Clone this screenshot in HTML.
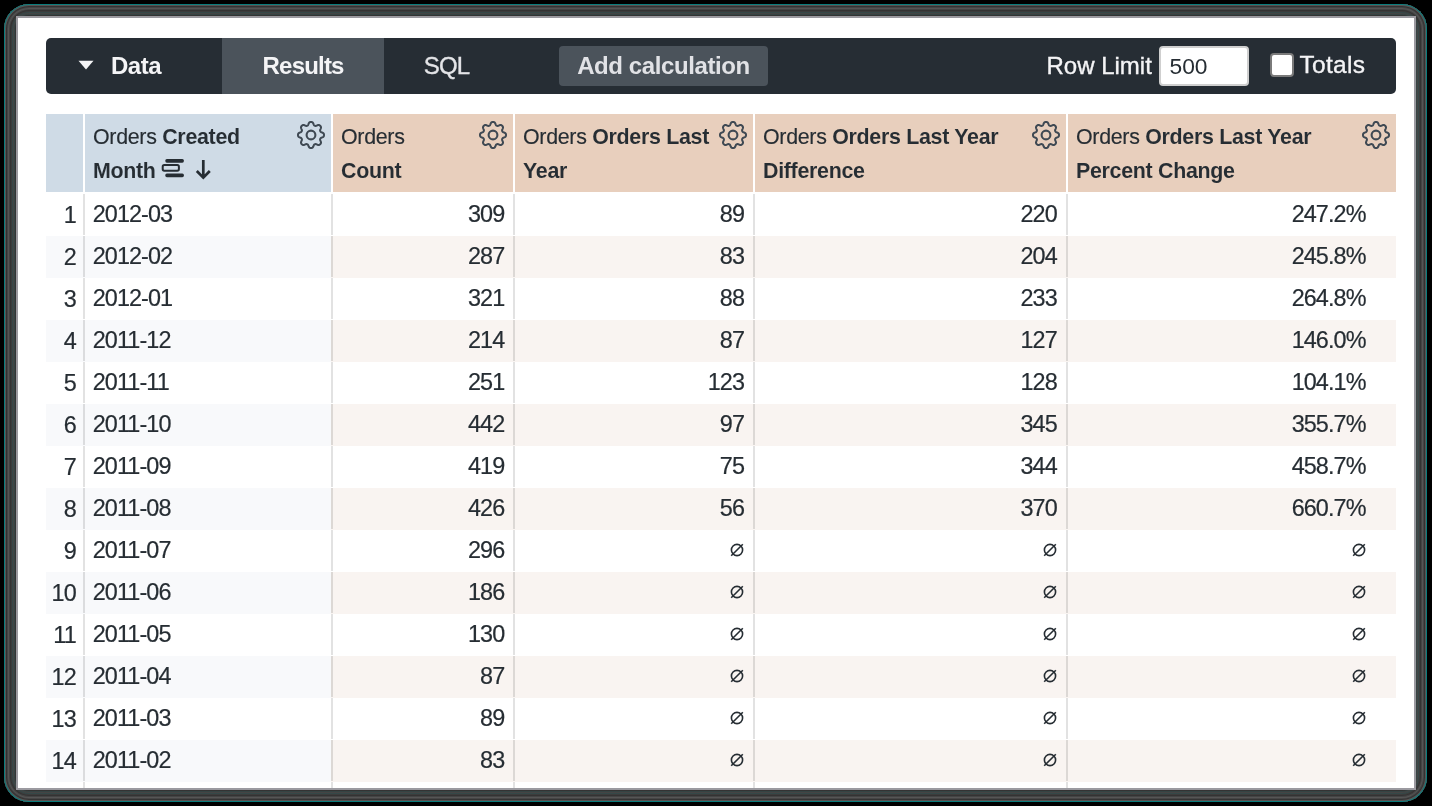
<!DOCTYPE html><html><head><meta charset="utf-8"><style>
*{margin:0;padding:0;box-sizing:border-box}
html,body{width:1432px;height:806px;overflow:hidden;background:#000;font-family:"Liberation Sans",sans-serif;}
.frame{position:absolute;left:4px;top:4px;width:1423px;height:798px;border-radius:25px;background:#3a3a3a;
 box-shadow: inset 0 0 0 1px #0a7d7d, inset 0 0 0 2px #5a5252, inset 0 0 0 3px #333, inset 0 0 0 4px #454545,
 inset 0 0 0 5px #555, inset 0 0 0 6px #444, inset 0 0 0 7px #333, inset 0 0 0 8px #3c3c3c, inset 0 0 0 9px #354848,
 inset 0 0 0 10px #444, inset 0 0 0 11px #354444, inset 0 0 0 12px #333;}
.inner{position:absolute;left:16px;top:16px;width:1400px;height:774px;background:#9b9aa0;}
.white{position:absolute;left:18px;top:18px;width:1396px;height:770px;background:#fff;overflow:hidden}
.abs{position:absolute}
.tb{position:absolute;left:46px;top:38px;width:1350px;height:56px;background:#262d34;border-radius:5px;overflow:hidden}
.t{position:absolute;white-space:nowrap;line-height:1}
.gear{position:absolute}
</style></head><body>
<div id="root" style="position:absolute;left:0;top:0;width:1432px;height:806px;background:#000;will-change:transform">
<div class="frame"></div><div class="inner"></div><div class="white"></div>
<div class="tb">
<div class="abs" style="left:176px;top:0;width:162px;height:56px;background:#4b535b"></div>
</div>
<svg class="abs" style="left:78px;top:60px" width="16" height="10" viewBox="0 0 16 10"><path d="M0.5 0.8 L15.5 0.8 L8 9.4 Z" fill="#f4f4f6"/></svg>
<div class="t" style="left:111px;top:53.68px;font-size:24px;font-weight:700;color:#f4f4f6;letter-spacing:-0.5px">Data</div>
<div class="t" style="left:223.5px;width:160px;text-align:center;top:54.18px;font-size:24px;font-weight:700;color:#f4f4f6;letter-spacing:-0.8px;text-indent:-0.8px">Results</div>
<div class="t" style="left:386.5px;width:120px;text-align:center;top:54.18px;font-size:24px;font-weight:400;color:#e4e5e8;letter-spacing:-0.8px;-webkit-text-stroke:0.35px #e4e5e8">SQL</div>
<div class="abs" style="left:559px;top:46px;width:209px;height:40px;background:#4b535b;border-radius:4px"></div>
<div class="t" style="left:559.0px;width:209px;text-align:center;top:53.68px;font-size:24px;font-weight:700;color:#e1e2e6;letter-spacing:-0.4px">Add calculation</div>
<div class="t" style="left:1046.5px;top:53.68px;font-size:24px;font-weight:400;color:#f4f4f6;-webkit-text-stroke:0.35px #f4f4f6">Row Limit</div>
<div class="abs" style="left:1159px;top:46px;width:90px;height:40px;background:#fff;border:2px solid #cfcfcf;border-radius:4px"></div>
<div class="t" style="left:1169.5px;top:54.70px;font-size:22.8px;font-weight:400;color:#262d33;">500</div>
<div class="abs" style="left:1270px;top:53px;width:24px;height:24px;background:#fff;border:2px solid #7a7a7a;border-radius:4px"></div>
<div class="t" style="left:1299.5px;top:53.26px;font-size:24.5px;font-weight:400;color:#f4f4f6;letter-spacing:0.3px;-webkit-text-stroke:0.35px #f4f4f6">Totals</div>
<div class="abs" style="left:46px;top:114px;width:37px;height:78px;background:#cfdbe6"></div>
<div class="abs" style="left:85px;top:114px;width:246px;height:78px;background:#cfdbe6"></div>
<div class="abs" style="left:333px;top:114px;width:180px;height:78px;background:#e8cfbd"></div>
<div class="abs" style="left:515px;top:114px;width:238px;height:78px;background:#e8cfbd"></div>
<div class="abs" style="left:755px;top:114px;width:311px;height:78px;background:#e8cfbd"></div>
<div class="abs" style="left:1068px;top:114px;width:328px;height:78px;background:#e8cfbd"></div>
<div class="t" style="left:93px;top:126.88px;font-size:21.4px;font-weight:400;color:#262d33;letter-spacing:-0.3px;-webkit-text-stroke:0.15px #262d33">Orders <b style="-webkit-text-stroke:0.06px #cfdbe6">Created</b></div>
<div class="t" style="left:93px;top:160.88px;font-size:21.4px;font-weight:400;color:#262d33;letter-spacing:-0.3px;-webkit-text-stroke:0.15px #262d33"><b style="-webkit-text-stroke:0.06px #cfdbe6">Month</b></div>
<div class="t" style="left:341px;top:126.88px;font-size:21.4px;font-weight:400;color:#262d33;letter-spacing:-0.3px;-webkit-text-stroke:0.15px #262d33">Orders</div>
<div class="t" style="left:341px;top:160.88px;font-size:21.4px;font-weight:400;color:#262d33;letter-spacing:-0.3px;-webkit-text-stroke:0.15px #262d33"><b style="-webkit-text-stroke:0.06px #e8cfbd">Count</b></div>
<div class="t" style="left:523px;top:126.88px;font-size:21.4px;font-weight:400;color:#262d33;letter-spacing:-0.3px;-webkit-text-stroke:0.15px #262d33">Orders <b style="-webkit-text-stroke:0.06px #e8cfbd">Orders Last</b></div>
<div class="t" style="left:523px;top:160.88px;font-size:21.4px;font-weight:400;color:#262d33;letter-spacing:-0.3px;-webkit-text-stroke:0.15px #262d33"><b style="-webkit-text-stroke:0.06px #e8cfbd">Year</b></div>
<div class="t" style="left:763px;top:126.88px;font-size:21.4px;font-weight:400;color:#262d33;letter-spacing:-0.3px;-webkit-text-stroke:0.15px #262d33">Orders <b style="-webkit-text-stroke:0.06px #e8cfbd">Orders Last Year</b></div>
<div class="t" style="left:763px;top:160.88px;font-size:21.4px;font-weight:400;color:#262d33;letter-spacing:-0.3px;-webkit-text-stroke:0.15px #262d33"><b style="-webkit-text-stroke:0.06px #e8cfbd">Difference</b></div>
<div class="t" style="left:1076px;top:126.88px;font-size:21.4px;font-weight:400;color:#262d33;letter-spacing:-0.3px;-webkit-text-stroke:0.15px #262d33">Orders <b style="-webkit-text-stroke:0.06px #e8cfbd">Orders Last Year</b></div>
<div class="t" style="left:1076px;top:160.88px;font-size:21.4px;font-weight:400;color:#262d33;letter-spacing:-0.3px;-webkit-text-stroke:0.15px #262d33"><b style="-webkit-text-stroke:0.06px #e8cfbd">Percent Change</b></div>
<svg class="gear" style="left:295.9px;top:120.2px" width="30" height="30" viewBox="0 0 30 30"><path d="M15.00 2.00L15.26 2.01L15.51 2.03L15.76 2.07L16.01 2.14L16.26 2.24L16.49 2.37L16.72 2.56L16.93 2.80L17.12 3.11L17.29 3.48L17.44 3.87L17.58 4.25L17.71 4.60L17.85 4.89L18.00 5.12L18.15 5.31L18.31 5.46L18.48 5.58L18.65 5.68L18.83 5.76L19.01 5.83L19.20 5.88L19.41 5.91L19.63 5.92L19.87 5.90L20.13 5.83L20.44 5.73L20.77 5.58L21.14 5.40L21.53 5.23L21.90 5.09L22.26 5.01L22.58 4.98L22.87 5.01L23.14 5.08L23.38 5.19L23.60 5.32L23.81 5.47L24.01 5.63L24.19 5.81L24.37 5.99L24.53 6.19L24.68 6.40L24.81 6.62L24.92 6.86L24.99 7.13L25.02 7.42L24.99 7.74L24.91 8.10L24.77 8.47L24.60 8.86L24.42 9.23L24.27 9.56L24.17 9.87L24.10 10.13L24.08 10.37L24.09 10.59L24.12 10.80L24.17 10.99L24.24 11.17L24.32 11.35L24.42 11.52L24.54 11.69L24.69 11.85L24.88 12.00L25.11 12.15L25.40 12.29L25.75 12.42L26.13 12.56L26.52 12.71L26.89 12.88L27.20 13.07L27.44 13.28L27.63 13.51L27.76 13.74L27.86 13.99L27.93 14.24L27.97 14.49L27.99 14.74L28.00 15.00L27.99 15.26L27.97 15.51L27.93 15.76L27.86 16.01L27.76 16.26L27.63 16.49L27.44 16.72L27.20 16.93L26.89 17.12L26.52 17.29L26.13 17.44L25.75 17.58L25.40 17.71L25.11 17.85L24.88 18.00L24.69 18.15L24.54 18.31L24.42 18.48L24.32 18.65L24.24 18.83L24.17 19.01L24.12 19.20L24.09 19.41L24.08 19.63L24.10 19.87L24.17 20.13L24.27 20.44L24.42 20.77L24.60 21.14L24.77 21.53L24.91 21.90L24.99 22.26L25.02 22.58L24.99 22.87L24.92 23.14L24.81 23.38L24.68 23.60L24.53 23.81L24.37 24.01L24.19 24.19L24.01 24.37L23.81 24.53L23.60 24.68L23.38 24.81L23.14 24.92L22.87 24.99L22.58 25.02L22.26 24.99L21.90 24.91L21.53 24.77L21.14 24.60L20.77 24.42L20.44 24.27L20.13 24.17L19.87 24.10L19.63 24.08L19.41 24.09L19.20 24.12L19.01 24.17L18.83 24.24L18.65 24.32L18.48 24.42L18.31 24.54L18.15 24.69L18.00 24.88L17.85 25.11L17.71 25.40L17.58 25.75L17.44 26.13L17.29 26.52L17.12 26.89L16.93 27.20L16.72 27.44L16.49 27.63L16.26 27.76L16.01 27.86L15.76 27.93L15.51 27.97L15.26 27.99L15.00 28.00L14.74 27.99L14.49 27.97L14.24 27.93L13.99 27.86L13.74 27.76L13.51 27.63L13.28 27.44L13.07 27.20L12.88 26.89L12.71 26.52L12.56 26.13L12.42 25.75L12.29 25.40L12.15 25.11L12.00 24.88L11.85 24.69L11.69 24.54L11.52 24.42L11.35 24.32L11.17 24.24L10.99 24.17L10.80 24.12L10.59 24.09L10.37 24.08L10.13 24.10L9.87 24.17L9.56 24.27L9.23 24.42L8.86 24.60L8.47 24.77L8.10 24.91L7.74 24.99L7.42 25.02L7.13 24.99L6.86 24.92L6.62 24.81L6.40 24.68L6.19 24.53L5.99 24.37L5.81 24.19L5.63 24.01L5.47 23.81L5.32 23.60L5.19 23.38L5.08 23.14L5.01 22.87L4.98 22.58L5.01 22.26L5.09 21.90L5.23 21.53L5.40 21.14L5.58 20.77L5.73 20.44L5.83 20.13L5.90 19.87L5.92 19.63L5.91 19.41L5.88 19.20L5.83 19.01L5.76 18.83L5.68 18.65L5.58 18.48L5.46 18.31L5.31 18.15L5.12 18.00L4.89 17.85L4.60 17.71L4.25 17.58L3.87 17.44L3.48 17.29L3.11 17.12L2.80 16.93L2.56 16.72L2.37 16.49L2.24 16.26L2.14 16.01L2.07 15.76L2.03 15.51L2.01 15.26L2.00 15.00L2.01 14.74L2.03 14.49L2.07 14.24L2.14 13.99L2.24 13.74L2.37 13.51L2.56 13.28L2.80 13.07L3.11 12.88L3.48 12.71L3.87 12.56L4.25 12.42L4.60 12.29L4.89 12.15L5.12 12.00L5.31 11.85L5.46 11.69L5.58 11.52L5.68 11.35L5.76 11.17L5.83 10.99L5.88 10.80L5.91 10.59L5.92 10.37L5.90 10.13L5.83 9.87L5.73 9.56L5.58 9.23L5.40 8.86L5.23 8.47L5.09 8.10L5.01 7.74L4.98 7.42L5.01 7.13L5.08 6.86L5.19 6.62L5.32 6.40L5.47 6.19L5.63 5.99L5.81 5.81L5.99 5.63L6.19 5.47L6.40 5.32L6.62 5.19L6.86 5.08L7.13 5.01L7.42 4.98L7.74 5.01L8.10 5.09L8.47 5.23L8.86 5.40L9.23 5.58L9.56 5.73L9.87 5.83L10.13 5.90L10.37 5.92L10.59 5.91L10.80 5.88L10.99 5.83L11.17 5.76L11.35 5.68L11.52 5.58L11.69 5.46L11.85 5.31L12.00 5.12L12.15 4.89L12.29 4.60L12.42 4.25L12.56 3.87L12.71 3.48L12.88 3.11L13.07 2.80L13.28 2.56L13.51 2.37L13.74 2.24L13.99 2.14L14.24 2.07L14.49 2.03L14.74 2.01Z" fill="none" stroke="#3f4953" stroke-width="2.0" stroke-linejoin="round"/><circle cx="15" cy="15" r="4.4" fill="none" stroke="#3f4953" stroke-width="2.1"/></svg>
<svg class="gear" style="left:478px;top:120.2px" width="30" height="30" viewBox="0 0 30 30"><path d="M15.00 2.00L15.26 2.01L15.51 2.03L15.76 2.07L16.01 2.14L16.26 2.24L16.49 2.37L16.72 2.56L16.93 2.80L17.12 3.11L17.29 3.48L17.44 3.87L17.58 4.25L17.71 4.60L17.85 4.89L18.00 5.12L18.15 5.31L18.31 5.46L18.48 5.58L18.65 5.68L18.83 5.76L19.01 5.83L19.20 5.88L19.41 5.91L19.63 5.92L19.87 5.90L20.13 5.83L20.44 5.73L20.77 5.58L21.14 5.40L21.53 5.23L21.90 5.09L22.26 5.01L22.58 4.98L22.87 5.01L23.14 5.08L23.38 5.19L23.60 5.32L23.81 5.47L24.01 5.63L24.19 5.81L24.37 5.99L24.53 6.19L24.68 6.40L24.81 6.62L24.92 6.86L24.99 7.13L25.02 7.42L24.99 7.74L24.91 8.10L24.77 8.47L24.60 8.86L24.42 9.23L24.27 9.56L24.17 9.87L24.10 10.13L24.08 10.37L24.09 10.59L24.12 10.80L24.17 10.99L24.24 11.17L24.32 11.35L24.42 11.52L24.54 11.69L24.69 11.85L24.88 12.00L25.11 12.15L25.40 12.29L25.75 12.42L26.13 12.56L26.52 12.71L26.89 12.88L27.20 13.07L27.44 13.28L27.63 13.51L27.76 13.74L27.86 13.99L27.93 14.24L27.97 14.49L27.99 14.74L28.00 15.00L27.99 15.26L27.97 15.51L27.93 15.76L27.86 16.01L27.76 16.26L27.63 16.49L27.44 16.72L27.20 16.93L26.89 17.12L26.52 17.29L26.13 17.44L25.75 17.58L25.40 17.71L25.11 17.85L24.88 18.00L24.69 18.15L24.54 18.31L24.42 18.48L24.32 18.65L24.24 18.83L24.17 19.01L24.12 19.20L24.09 19.41L24.08 19.63L24.10 19.87L24.17 20.13L24.27 20.44L24.42 20.77L24.60 21.14L24.77 21.53L24.91 21.90L24.99 22.26L25.02 22.58L24.99 22.87L24.92 23.14L24.81 23.38L24.68 23.60L24.53 23.81L24.37 24.01L24.19 24.19L24.01 24.37L23.81 24.53L23.60 24.68L23.38 24.81L23.14 24.92L22.87 24.99L22.58 25.02L22.26 24.99L21.90 24.91L21.53 24.77L21.14 24.60L20.77 24.42L20.44 24.27L20.13 24.17L19.87 24.10L19.63 24.08L19.41 24.09L19.20 24.12L19.01 24.17L18.83 24.24L18.65 24.32L18.48 24.42L18.31 24.54L18.15 24.69L18.00 24.88L17.85 25.11L17.71 25.40L17.58 25.75L17.44 26.13L17.29 26.52L17.12 26.89L16.93 27.20L16.72 27.44L16.49 27.63L16.26 27.76L16.01 27.86L15.76 27.93L15.51 27.97L15.26 27.99L15.00 28.00L14.74 27.99L14.49 27.97L14.24 27.93L13.99 27.86L13.74 27.76L13.51 27.63L13.28 27.44L13.07 27.20L12.88 26.89L12.71 26.52L12.56 26.13L12.42 25.75L12.29 25.40L12.15 25.11L12.00 24.88L11.85 24.69L11.69 24.54L11.52 24.42L11.35 24.32L11.17 24.24L10.99 24.17L10.80 24.12L10.59 24.09L10.37 24.08L10.13 24.10L9.87 24.17L9.56 24.27L9.23 24.42L8.86 24.60L8.47 24.77L8.10 24.91L7.74 24.99L7.42 25.02L7.13 24.99L6.86 24.92L6.62 24.81L6.40 24.68L6.19 24.53L5.99 24.37L5.81 24.19L5.63 24.01L5.47 23.81L5.32 23.60L5.19 23.38L5.08 23.14L5.01 22.87L4.98 22.58L5.01 22.26L5.09 21.90L5.23 21.53L5.40 21.14L5.58 20.77L5.73 20.44L5.83 20.13L5.90 19.87L5.92 19.63L5.91 19.41L5.88 19.20L5.83 19.01L5.76 18.83L5.68 18.65L5.58 18.48L5.46 18.31L5.31 18.15L5.12 18.00L4.89 17.85L4.60 17.71L4.25 17.58L3.87 17.44L3.48 17.29L3.11 17.12L2.80 16.93L2.56 16.72L2.37 16.49L2.24 16.26L2.14 16.01L2.07 15.76L2.03 15.51L2.01 15.26L2.00 15.00L2.01 14.74L2.03 14.49L2.07 14.24L2.14 13.99L2.24 13.74L2.37 13.51L2.56 13.28L2.80 13.07L3.11 12.88L3.48 12.71L3.87 12.56L4.25 12.42L4.60 12.29L4.89 12.15L5.12 12.00L5.31 11.85L5.46 11.69L5.58 11.52L5.68 11.35L5.76 11.17L5.83 10.99L5.88 10.80L5.91 10.59L5.92 10.37L5.90 10.13L5.83 9.87L5.73 9.56L5.58 9.23L5.40 8.86L5.23 8.47L5.09 8.10L5.01 7.74L4.98 7.42L5.01 7.13L5.08 6.86L5.19 6.62L5.32 6.40L5.47 6.19L5.63 5.99L5.81 5.81L5.99 5.63L6.19 5.47L6.40 5.32L6.62 5.19L6.86 5.08L7.13 5.01L7.42 4.98L7.74 5.01L8.10 5.09L8.47 5.23L8.86 5.40L9.23 5.58L9.56 5.73L9.87 5.83L10.13 5.90L10.37 5.92L10.59 5.91L10.80 5.88L10.99 5.83L11.17 5.76L11.35 5.68L11.52 5.58L11.69 5.46L11.85 5.31L12.00 5.12L12.15 4.89L12.29 4.60L12.42 4.25L12.56 3.87L12.71 3.48L12.88 3.11L13.07 2.80L13.28 2.56L13.51 2.37L13.74 2.24L13.99 2.14L14.24 2.07L14.49 2.03L14.74 2.01Z" fill="none" stroke="#3f4953" stroke-width="2.0" stroke-linejoin="round"/><circle cx="15" cy="15" r="4.4" fill="none" stroke="#3f4953" stroke-width="2.1"/></svg>
<svg class="gear" style="left:717.8px;top:120.2px" width="30" height="30" viewBox="0 0 30 30"><path d="M15.00 2.00L15.26 2.01L15.51 2.03L15.76 2.07L16.01 2.14L16.26 2.24L16.49 2.37L16.72 2.56L16.93 2.80L17.12 3.11L17.29 3.48L17.44 3.87L17.58 4.25L17.71 4.60L17.85 4.89L18.00 5.12L18.15 5.31L18.31 5.46L18.48 5.58L18.65 5.68L18.83 5.76L19.01 5.83L19.20 5.88L19.41 5.91L19.63 5.92L19.87 5.90L20.13 5.83L20.44 5.73L20.77 5.58L21.14 5.40L21.53 5.23L21.90 5.09L22.26 5.01L22.58 4.98L22.87 5.01L23.14 5.08L23.38 5.19L23.60 5.32L23.81 5.47L24.01 5.63L24.19 5.81L24.37 5.99L24.53 6.19L24.68 6.40L24.81 6.62L24.92 6.86L24.99 7.13L25.02 7.42L24.99 7.74L24.91 8.10L24.77 8.47L24.60 8.86L24.42 9.23L24.27 9.56L24.17 9.87L24.10 10.13L24.08 10.37L24.09 10.59L24.12 10.80L24.17 10.99L24.24 11.17L24.32 11.35L24.42 11.52L24.54 11.69L24.69 11.85L24.88 12.00L25.11 12.15L25.40 12.29L25.75 12.42L26.13 12.56L26.52 12.71L26.89 12.88L27.20 13.07L27.44 13.28L27.63 13.51L27.76 13.74L27.86 13.99L27.93 14.24L27.97 14.49L27.99 14.74L28.00 15.00L27.99 15.26L27.97 15.51L27.93 15.76L27.86 16.01L27.76 16.26L27.63 16.49L27.44 16.72L27.20 16.93L26.89 17.12L26.52 17.29L26.13 17.44L25.75 17.58L25.40 17.71L25.11 17.85L24.88 18.00L24.69 18.15L24.54 18.31L24.42 18.48L24.32 18.65L24.24 18.83L24.17 19.01L24.12 19.20L24.09 19.41L24.08 19.63L24.10 19.87L24.17 20.13L24.27 20.44L24.42 20.77L24.60 21.14L24.77 21.53L24.91 21.90L24.99 22.26L25.02 22.58L24.99 22.87L24.92 23.14L24.81 23.38L24.68 23.60L24.53 23.81L24.37 24.01L24.19 24.19L24.01 24.37L23.81 24.53L23.60 24.68L23.38 24.81L23.14 24.92L22.87 24.99L22.58 25.02L22.26 24.99L21.90 24.91L21.53 24.77L21.14 24.60L20.77 24.42L20.44 24.27L20.13 24.17L19.87 24.10L19.63 24.08L19.41 24.09L19.20 24.12L19.01 24.17L18.83 24.24L18.65 24.32L18.48 24.42L18.31 24.54L18.15 24.69L18.00 24.88L17.85 25.11L17.71 25.40L17.58 25.75L17.44 26.13L17.29 26.52L17.12 26.89L16.93 27.20L16.72 27.44L16.49 27.63L16.26 27.76L16.01 27.86L15.76 27.93L15.51 27.97L15.26 27.99L15.00 28.00L14.74 27.99L14.49 27.97L14.24 27.93L13.99 27.86L13.74 27.76L13.51 27.63L13.28 27.44L13.07 27.20L12.88 26.89L12.71 26.52L12.56 26.13L12.42 25.75L12.29 25.40L12.15 25.11L12.00 24.88L11.85 24.69L11.69 24.54L11.52 24.42L11.35 24.32L11.17 24.24L10.99 24.17L10.80 24.12L10.59 24.09L10.37 24.08L10.13 24.10L9.87 24.17L9.56 24.27L9.23 24.42L8.86 24.60L8.47 24.77L8.10 24.91L7.74 24.99L7.42 25.02L7.13 24.99L6.86 24.92L6.62 24.81L6.40 24.68L6.19 24.53L5.99 24.37L5.81 24.19L5.63 24.01L5.47 23.81L5.32 23.60L5.19 23.38L5.08 23.14L5.01 22.87L4.98 22.58L5.01 22.26L5.09 21.90L5.23 21.53L5.40 21.14L5.58 20.77L5.73 20.44L5.83 20.13L5.90 19.87L5.92 19.63L5.91 19.41L5.88 19.20L5.83 19.01L5.76 18.83L5.68 18.65L5.58 18.48L5.46 18.31L5.31 18.15L5.12 18.00L4.89 17.85L4.60 17.71L4.25 17.58L3.87 17.44L3.48 17.29L3.11 17.12L2.80 16.93L2.56 16.72L2.37 16.49L2.24 16.26L2.14 16.01L2.07 15.76L2.03 15.51L2.01 15.26L2.00 15.00L2.01 14.74L2.03 14.49L2.07 14.24L2.14 13.99L2.24 13.74L2.37 13.51L2.56 13.28L2.80 13.07L3.11 12.88L3.48 12.71L3.87 12.56L4.25 12.42L4.60 12.29L4.89 12.15L5.12 12.00L5.31 11.85L5.46 11.69L5.58 11.52L5.68 11.35L5.76 11.17L5.83 10.99L5.88 10.80L5.91 10.59L5.92 10.37L5.90 10.13L5.83 9.87L5.73 9.56L5.58 9.23L5.40 8.86L5.23 8.47L5.09 8.10L5.01 7.74L4.98 7.42L5.01 7.13L5.08 6.86L5.19 6.62L5.32 6.40L5.47 6.19L5.63 5.99L5.81 5.81L5.99 5.63L6.19 5.47L6.40 5.32L6.62 5.19L6.86 5.08L7.13 5.01L7.42 4.98L7.74 5.01L8.10 5.09L8.47 5.23L8.86 5.40L9.23 5.58L9.56 5.73L9.87 5.83L10.13 5.90L10.37 5.92L10.59 5.91L10.80 5.88L10.99 5.83L11.17 5.76L11.35 5.68L11.52 5.58L11.69 5.46L11.85 5.31L12.00 5.12L12.15 4.89L12.29 4.60L12.42 4.25L12.56 3.87L12.71 3.48L12.88 3.11L13.07 2.80L13.28 2.56L13.51 2.37L13.74 2.24L13.99 2.14L14.24 2.07L14.49 2.03L14.74 2.01Z" fill="none" stroke="#3f4953" stroke-width="2.0" stroke-linejoin="round"/><circle cx="15" cy="15" r="4.4" fill="none" stroke="#3f4953" stroke-width="2.1"/></svg>
<svg class="gear" style="left:1030.5px;top:120.2px" width="30" height="30" viewBox="0 0 30 30"><path d="M15.00 2.00L15.26 2.01L15.51 2.03L15.76 2.07L16.01 2.14L16.26 2.24L16.49 2.37L16.72 2.56L16.93 2.80L17.12 3.11L17.29 3.48L17.44 3.87L17.58 4.25L17.71 4.60L17.85 4.89L18.00 5.12L18.15 5.31L18.31 5.46L18.48 5.58L18.65 5.68L18.83 5.76L19.01 5.83L19.20 5.88L19.41 5.91L19.63 5.92L19.87 5.90L20.13 5.83L20.44 5.73L20.77 5.58L21.14 5.40L21.53 5.23L21.90 5.09L22.26 5.01L22.58 4.98L22.87 5.01L23.14 5.08L23.38 5.19L23.60 5.32L23.81 5.47L24.01 5.63L24.19 5.81L24.37 5.99L24.53 6.19L24.68 6.40L24.81 6.62L24.92 6.86L24.99 7.13L25.02 7.42L24.99 7.74L24.91 8.10L24.77 8.47L24.60 8.86L24.42 9.23L24.27 9.56L24.17 9.87L24.10 10.13L24.08 10.37L24.09 10.59L24.12 10.80L24.17 10.99L24.24 11.17L24.32 11.35L24.42 11.52L24.54 11.69L24.69 11.85L24.88 12.00L25.11 12.15L25.40 12.29L25.75 12.42L26.13 12.56L26.52 12.71L26.89 12.88L27.20 13.07L27.44 13.28L27.63 13.51L27.76 13.74L27.86 13.99L27.93 14.24L27.97 14.49L27.99 14.74L28.00 15.00L27.99 15.26L27.97 15.51L27.93 15.76L27.86 16.01L27.76 16.26L27.63 16.49L27.44 16.72L27.20 16.93L26.89 17.12L26.52 17.29L26.13 17.44L25.75 17.58L25.40 17.71L25.11 17.85L24.88 18.00L24.69 18.15L24.54 18.31L24.42 18.48L24.32 18.65L24.24 18.83L24.17 19.01L24.12 19.20L24.09 19.41L24.08 19.63L24.10 19.87L24.17 20.13L24.27 20.44L24.42 20.77L24.60 21.14L24.77 21.53L24.91 21.90L24.99 22.26L25.02 22.58L24.99 22.87L24.92 23.14L24.81 23.38L24.68 23.60L24.53 23.81L24.37 24.01L24.19 24.19L24.01 24.37L23.81 24.53L23.60 24.68L23.38 24.81L23.14 24.92L22.87 24.99L22.58 25.02L22.26 24.99L21.90 24.91L21.53 24.77L21.14 24.60L20.77 24.42L20.44 24.27L20.13 24.17L19.87 24.10L19.63 24.08L19.41 24.09L19.20 24.12L19.01 24.17L18.83 24.24L18.65 24.32L18.48 24.42L18.31 24.54L18.15 24.69L18.00 24.88L17.85 25.11L17.71 25.40L17.58 25.75L17.44 26.13L17.29 26.52L17.12 26.89L16.93 27.20L16.72 27.44L16.49 27.63L16.26 27.76L16.01 27.86L15.76 27.93L15.51 27.97L15.26 27.99L15.00 28.00L14.74 27.99L14.49 27.97L14.24 27.93L13.99 27.86L13.74 27.76L13.51 27.63L13.28 27.44L13.07 27.20L12.88 26.89L12.71 26.52L12.56 26.13L12.42 25.75L12.29 25.40L12.15 25.11L12.00 24.88L11.85 24.69L11.69 24.54L11.52 24.42L11.35 24.32L11.17 24.24L10.99 24.17L10.80 24.12L10.59 24.09L10.37 24.08L10.13 24.10L9.87 24.17L9.56 24.27L9.23 24.42L8.86 24.60L8.47 24.77L8.10 24.91L7.74 24.99L7.42 25.02L7.13 24.99L6.86 24.92L6.62 24.81L6.40 24.68L6.19 24.53L5.99 24.37L5.81 24.19L5.63 24.01L5.47 23.81L5.32 23.60L5.19 23.38L5.08 23.14L5.01 22.87L4.98 22.58L5.01 22.26L5.09 21.90L5.23 21.53L5.40 21.14L5.58 20.77L5.73 20.44L5.83 20.13L5.90 19.87L5.92 19.63L5.91 19.41L5.88 19.20L5.83 19.01L5.76 18.83L5.68 18.65L5.58 18.48L5.46 18.31L5.31 18.15L5.12 18.00L4.89 17.85L4.60 17.71L4.25 17.58L3.87 17.44L3.48 17.29L3.11 17.12L2.80 16.93L2.56 16.72L2.37 16.49L2.24 16.26L2.14 16.01L2.07 15.76L2.03 15.51L2.01 15.26L2.00 15.00L2.01 14.74L2.03 14.49L2.07 14.24L2.14 13.99L2.24 13.74L2.37 13.51L2.56 13.28L2.80 13.07L3.11 12.88L3.48 12.71L3.87 12.56L4.25 12.42L4.60 12.29L4.89 12.15L5.12 12.00L5.31 11.85L5.46 11.69L5.58 11.52L5.68 11.35L5.76 11.17L5.83 10.99L5.88 10.80L5.91 10.59L5.92 10.37L5.90 10.13L5.83 9.87L5.73 9.56L5.58 9.23L5.40 8.86L5.23 8.47L5.09 8.10L5.01 7.74L4.98 7.42L5.01 7.13L5.08 6.86L5.19 6.62L5.32 6.40L5.47 6.19L5.63 5.99L5.81 5.81L5.99 5.63L6.19 5.47L6.40 5.32L6.62 5.19L6.86 5.08L7.13 5.01L7.42 4.98L7.74 5.01L8.10 5.09L8.47 5.23L8.86 5.40L9.23 5.58L9.56 5.73L9.87 5.83L10.13 5.90L10.37 5.92L10.59 5.91L10.80 5.88L10.99 5.83L11.17 5.76L11.35 5.68L11.52 5.58L11.69 5.46L11.85 5.31L12.00 5.12L12.15 4.89L12.29 4.60L12.42 4.25L12.56 3.87L12.71 3.48L12.88 3.11L13.07 2.80L13.28 2.56L13.51 2.37L13.74 2.24L13.99 2.14L14.24 2.07L14.49 2.03L14.74 2.01Z" fill="none" stroke="#3f4953" stroke-width="2.0" stroke-linejoin="round"/><circle cx="15" cy="15" r="4.4" fill="none" stroke="#3f4953" stroke-width="2.1"/></svg>
<svg class="gear" style="left:1361px;top:120.2px" width="30" height="30" viewBox="0 0 30 30"><path d="M15.00 2.00L15.26 2.01L15.51 2.03L15.76 2.07L16.01 2.14L16.26 2.24L16.49 2.37L16.72 2.56L16.93 2.80L17.12 3.11L17.29 3.48L17.44 3.87L17.58 4.25L17.71 4.60L17.85 4.89L18.00 5.12L18.15 5.31L18.31 5.46L18.48 5.58L18.65 5.68L18.83 5.76L19.01 5.83L19.20 5.88L19.41 5.91L19.63 5.92L19.87 5.90L20.13 5.83L20.44 5.73L20.77 5.58L21.14 5.40L21.53 5.23L21.90 5.09L22.26 5.01L22.58 4.98L22.87 5.01L23.14 5.08L23.38 5.19L23.60 5.32L23.81 5.47L24.01 5.63L24.19 5.81L24.37 5.99L24.53 6.19L24.68 6.40L24.81 6.62L24.92 6.86L24.99 7.13L25.02 7.42L24.99 7.74L24.91 8.10L24.77 8.47L24.60 8.86L24.42 9.23L24.27 9.56L24.17 9.87L24.10 10.13L24.08 10.37L24.09 10.59L24.12 10.80L24.17 10.99L24.24 11.17L24.32 11.35L24.42 11.52L24.54 11.69L24.69 11.85L24.88 12.00L25.11 12.15L25.40 12.29L25.75 12.42L26.13 12.56L26.52 12.71L26.89 12.88L27.20 13.07L27.44 13.28L27.63 13.51L27.76 13.74L27.86 13.99L27.93 14.24L27.97 14.49L27.99 14.74L28.00 15.00L27.99 15.26L27.97 15.51L27.93 15.76L27.86 16.01L27.76 16.26L27.63 16.49L27.44 16.72L27.20 16.93L26.89 17.12L26.52 17.29L26.13 17.44L25.75 17.58L25.40 17.71L25.11 17.85L24.88 18.00L24.69 18.15L24.54 18.31L24.42 18.48L24.32 18.65L24.24 18.83L24.17 19.01L24.12 19.20L24.09 19.41L24.08 19.63L24.10 19.87L24.17 20.13L24.27 20.44L24.42 20.77L24.60 21.14L24.77 21.53L24.91 21.90L24.99 22.26L25.02 22.58L24.99 22.87L24.92 23.14L24.81 23.38L24.68 23.60L24.53 23.81L24.37 24.01L24.19 24.19L24.01 24.37L23.81 24.53L23.60 24.68L23.38 24.81L23.14 24.92L22.87 24.99L22.58 25.02L22.26 24.99L21.90 24.91L21.53 24.77L21.14 24.60L20.77 24.42L20.44 24.27L20.13 24.17L19.87 24.10L19.63 24.08L19.41 24.09L19.20 24.12L19.01 24.17L18.83 24.24L18.65 24.32L18.48 24.42L18.31 24.54L18.15 24.69L18.00 24.88L17.85 25.11L17.71 25.40L17.58 25.75L17.44 26.13L17.29 26.52L17.12 26.89L16.93 27.20L16.72 27.44L16.49 27.63L16.26 27.76L16.01 27.86L15.76 27.93L15.51 27.97L15.26 27.99L15.00 28.00L14.74 27.99L14.49 27.97L14.24 27.93L13.99 27.86L13.74 27.76L13.51 27.63L13.28 27.44L13.07 27.20L12.88 26.89L12.71 26.52L12.56 26.13L12.42 25.75L12.29 25.40L12.15 25.11L12.00 24.88L11.85 24.69L11.69 24.54L11.52 24.42L11.35 24.32L11.17 24.24L10.99 24.17L10.80 24.12L10.59 24.09L10.37 24.08L10.13 24.10L9.87 24.17L9.56 24.27L9.23 24.42L8.86 24.60L8.47 24.77L8.10 24.91L7.74 24.99L7.42 25.02L7.13 24.99L6.86 24.92L6.62 24.81L6.40 24.68L6.19 24.53L5.99 24.37L5.81 24.19L5.63 24.01L5.47 23.81L5.32 23.60L5.19 23.38L5.08 23.14L5.01 22.87L4.98 22.58L5.01 22.26L5.09 21.90L5.23 21.53L5.40 21.14L5.58 20.77L5.73 20.44L5.83 20.13L5.90 19.87L5.92 19.63L5.91 19.41L5.88 19.20L5.83 19.01L5.76 18.83L5.68 18.65L5.58 18.48L5.46 18.31L5.31 18.15L5.12 18.00L4.89 17.85L4.60 17.71L4.25 17.58L3.87 17.44L3.48 17.29L3.11 17.12L2.80 16.93L2.56 16.72L2.37 16.49L2.24 16.26L2.14 16.01L2.07 15.76L2.03 15.51L2.01 15.26L2.00 15.00L2.01 14.74L2.03 14.49L2.07 14.24L2.14 13.99L2.24 13.74L2.37 13.51L2.56 13.28L2.80 13.07L3.11 12.88L3.48 12.71L3.87 12.56L4.25 12.42L4.60 12.29L4.89 12.15L5.12 12.00L5.31 11.85L5.46 11.69L5.58 11.52L5.68 11.35L5.76 11.17L5.83 10.99L5.88 10.80L5.91 10.59L5.92 10.37L5.90 10.13L5.83 9.87L5.73 9.56L5.58 9.23L5.40 8.86L5.23 8.47L5.09 8.10L5.01 7.74L4.98 7.42L5.01 7.13L5.08 6.86L5.19 6.62L5.32 6.40L5.47 6.19L5.63 5.99L5.81 5.81L5.99 5.63L6.19 5.47L6.40 5.32L6.62 5.19L6.86 5.08L7.13 5.01L7.42 4.98L7.74 5.01L8.10 5.09L8.47 5.23L8.86 5.40L9.23 5.58L9.56 5.73L9.87 5.83L10.13 5.90L10.37 5.92L10.59 5.91L10.80 5.88L10.99 5.83L11.17 5.76L11.35 5.68L11.52 5.58L11.69 5.46L11.85 5.31L12.00 5.12L12.15 4.89L12.29 4.60L12.42 4.25L12.56 3.87L12.71 3.48L12.88 3.11L13.07 2.80L13.28 2.56L13.51 2.37L13.74 2.24L13.99 2.14L14.24 2.07L14.49 2.03L14.74 2.01Z" fill="none" stroke="#3f4953" stroke-width="2.0" stroke-linejoin="round"/><circle cx="15" cy="15" r="4.4" fill="none" stroke="#3f4953" stroke-width="2.1"/></svg>
<svg class="abs" style="left:160px;top:157px" width="54" height="24" viewBox="0 0 54 24">
<rect x="5.3" y="1.9" width="18.6" height="3.8" rx="1.6" fill="#262d33"/>
<rect x="2.7" y="8.1" width="16.2" height="5.6" rx="1.6" fill="none" stroke="#262d33" stroke-width="2"/>
<rect x="5.3" y="16.4" width="18.6" height="3.8" rx="1.6" fill="#262d33"/>
<path d="M43.3 3 L43.3 20.5 M36.8 14 L43.3 20.6 L49.8 14" fill="none" stroke="#262d33" stroke-width="2.7"/>
</svg>
<div class="abs" style="left:83px;top:194px;width:2px;height:41px;background:rgba(0,0,0,0.115)"></div>
<div class="abs" style="left:331px;top:194px;width:2px;height:41px;background:rgba(0,0,0,0.115)"></div>
<div class="abs" style="left:513px;top:194px;width:2px;height:41px;background:rgba(0,0,0,0.115)"></div>
<div class="abs" style="left:753px;top:194px;width:2px;height:41px;background:rgba(0,0,0,0.115)"></div>
<div class="abs" style="left:1066px;top:194px;width:2px;height:41px;background:rgba(0,0,0,0.115)"></div>
<div class="t" style="left:45.8px;width:30px;text-align:right;top:204.39px;font-size:23.4px;font-weight:400;color:#262d33;letter-spacing:-0.9px;-webkit-text-stroke:0.2px #262d33">1</div>
<div class="t" style="left:92.7px;top:203.39px;font-size:23.4px;font-weight:400;color:#262d33;letter-spacing:-0.9px;-webkit-text-stroke:0.2px #262d33">2012-03</div>
<div class="t" style="left:354.29999999999995px;width:150px;text-align:right;top:203.39px;font-size:23.4px;font-weight:400;color:#262d33;letter-spacing:-0.9px;-webkit-text-stroke:0.2px #262d33">309</div>
<div class="t" style="left:594.0px;width:150px;text-align:right;top:203.39px;font-size:23.4px;font-weight:400;color:#262d33;letter-spacing:-0.9px;-webkit-text-stroke:0.2px #262d33">89</div>
<div class="t" style="left:906.8000000000002px;width:150px;text-align:right;top:203.39px;font-size:23.4px;font-weight:400;color:#262d33;letter-spacing:-0.9px;-webkit-text-stroke:0.2px #262d33">220</div>
<div class="t" style="left:1215.6000000000001px;width:150px;text-align:right;top:203.39px;font-size:23.4px;font-weight:400;color:#262d33;letter-spacing:-0.9px;-webkit-text-stroke:0.2px #262d33">247.2%</div>
<div class="abs" style="left:46px;top:236px;width:285px;height:42px;background:#f8f9fb"></div>
<div class="abs" style="left:331px;top:236px;width:1065px;height:42px;background:#f9f4f1"></div>
<div class="abs" style="left:83px;top:236px;width:2px;height:41px;background:rgba(0,0,0,0.115)"></div>
<div class="abs" style="left:331px;top:236px;width:2px;height:41px;background:rgba(0,0,0,0.115)"></div>
<div class="abs" style="left:513px;top:236px;width:2px;height:41px;background:rgba(0,0,0,0.115)"></div>
<div class="abs" style="left:753px;top:236px;width:2px;height:41px;background:rgba(0,0,0,0.115)"></div>
<div class="abs" style="left:1066px;top:236px;width:2px;height:41px;background:rgba(0,0,0,0.115)"></div>
<div class="t" style="left:45.8px;width:30px;text-align:right;top:246.39px;font-size:23.4px;font-weight:400;color:#262d33;letter-spacing:-0.9px;-webkit-text-stroke:0.2px #262d33">2</div>
<div class="t" style="left:92.7px;top:245.39px;font-size:23.4px;font-weight:400;color:#262d33;letter-spacing:-0.9px;-webkit-text-stroke:0.2px #262d33">2012-02</div>
<div class="t" style="left:354.29999999999995px;width:150px;text-align:right;top:245.39px;font-size:23.4px;font-weight:400;color:#262d33;letter-spacing:-0.9px;-webkit-text-stroke:0.2px #262d33">287</div>
<div class="t" style="left:594.0px;width:150px;text-align:right;top:245.39px;font-size:23.4px;font-weight:400;color:#262d33;letter-spacing:-0.9px;-webkit-text-stroke:0.2px #262d33">83</div>
<div class="t" style="left:906.8000000000002px;width:150px;text-align:right;top:245.39px;font-size:23.4px;font-weight:400;color:#262d33;letter-spacing:-0.9px;-webkit-text-stroke:0.2px #262d33">204</div>
<div class="t" style="left:1215.6000000000001px;width:150px;text-align:right;top:245.39px;font-size:23.4px;font-weight:400;color:#262d33;letter-spacing:-0.9px;-webkit-text-stroke:0.2px #262d33">245.8%</div>
<div class="abs" style="left:83px;top:278px;width:2px;height:41px;background:rgba(0,0,0,0.115)"></div>
<div class="abs" style="left:331px;top:278px;width:2px;height:41px;background:rgba(0,0,0,0.115)"></div>
<div class="abs" style="left:513px;top:278px;width:2px;height:41px;background:rgba(0,0,0,0.115)"></div>
<div class="abs" style="left:753px;top:278px;width:2px;height:41px;background:rgba(0,0,0,0.115)"></div>
<div class="abs" style="left:1066px;top:278px;width:2px;height:41px;background:rgba(0,0,0,0.115)"></div>
<div class="t" style="left:45.8px;width:30px;text-align:right;top:288.39px;font-size:23.4px;font-weight:400;color:#262d33;letter-spacing:-0.9px;-webkit-text-stroke:0.2px #262d33">3</div>
<div class="t" style="left:92.7px;top:287.39px;font-size:23.4px;font-weight:400;color:#262d33;letter-spacing:-0.9px;-webkit-text-stroke:0.2px #262d33">2012-01</div>
<div class="t" style="left:354.29999999999995px;width:150px;text-align:right;top:287.39px;font-size:23.4px;font-weight:400;color:#262d33;letter-spacing:-0.9px;-webkit-text-stroke:0.2px #262d33">321</div>
<div class="t" style="left:594.0px;width:150px;text-align:right;top:287.39px;font-size:23.4px;font-weight:400;color:#262d33;letter-spacing:-0.9px;-webkit-text-stroke:0.2px #262d33">88</div>
<div class="t" style="left:906.8000000000002px;width:150px;text-align:right;top:287.39px;font-size:23.4px;font-weight:400;color:#262d33;letter-spacing:-0.9px;-webkit-text-stroke:0.2px #262d33">233</div>
<div class="t" style="left:1215.6000000000001px;width:150px;text-align:right;top:287.39px;font-size:23.4px;font-weight:400;color:#262d33;letter-spacing:-0.9px;-webkit-text-stroke:0.2px #262d33">264.8%</div>
<div class="abs" style="left:46px;top:320px;width:285px;height:42px;background:#f8f9fb"></div>
<div class="abs" style="left:331px;top:320px;width:1065px;height:42px;background:#f9f4f1"></div>
<div class="abs" style="left:83px;top:320px;width:2px;height:41px;background:rgba(0,0,0,0.115)"></div>
<div class="abs" style="left:331px;top:320px;width:2px;height:41px;background:rgba(0,0,0,0.115)"></div>
<div class="abs" style="left:513px;top:320px;width:2px;height:41px;background:rgba(0,0,0,0.115)"></div>
<div class="abs" style="left:753px;top:320px;width:2px;height:41px;background:rgba(0,0,0,0.115)"></div>
<div class="abs" style="left:1066px;top:320px;width:2px;height:41px;background:rgba(0,0,0,0.115)"></div>
<div class="t" style="left:45.8px;width:30px;text-align:right;top:330.39px;font-size:23.4px;font-weight:400;color:#262d33;letter-spacing:-0.9px;-webkit-text-stroke:0.2px #262d33">4</div>
<div class="t" style="left:92.7px;top:329.39px;font-size:23.4px;font-weight:400;color:#262d33;letter-spacing:-0.9px;-webkit-text-stroke:0.2px #262d33">2011-12</div>
<div class="t" style="left:354.29999999999995px;width:150px;text-align:right;top:329.39px;font-size:23.4px;font-weight:400;color:#262d33;letter-spacing:-0.9px;-webkit-text-stroke:0.2px #262d33">214</div>
<div class="t" style="left:594.0px;width:150px;text-align:right;top:329.39px;font-size:23.4px;font-weight:400;color:#262d33;letter-spacing:-0.9px;-webkit-text-stroke:0.2px #262d33">87</div>
<div class="t" style="left:906.8000000000002px;width:150px;text-align:right;top:329.39px;font-size:23.4px;font-weight:400;color:#262d33;letter-spacing:-0.9px;-webkit-text-stroke:0.2px #262d33">127</div>
<div class="t" style="left:1215.6000000000001px;width:150px;text-align:right;top:329.39px;font-size:23.4px;font-weight:400;color:#262d33;letter-spacing:-0.9px;-webkit-text-stroke:0.2px #262d33">146.0%</div>
<div class="abs" style="left:83px;top:362px;width:2px;height:41px;background:rgba(0,0,0,0.115)"></div>
<div class="abs" style="left:331px;top:362px;width:2px;height:41px;background:rgba(0,0,0,0.115)"></div>
<div class="abs" style="left:513px;top:362px;width:2px;height:41px;background:rgba(0,0,0,0.115)"></div>
<div class="abs" style="left:753px;top:362px;width:2px;height:41px;background:rgba(0,0,0,0.115)"></div>
<div class="abs" style="left:1066px;top:362px;width:2px;height:41px;background:rgba(0,0,0,0.115)"></div>
<div class="t" style="left:45.8px;width:30px;text-align:right;top:372.39px;font-size:23.4px;font-weight:400;color:#262d33;letter-spacing:-0.9px;-webkit-text-stroke:0.2px #262d33">5</div>
<div class="t" style="left:92.7px;top:371.39px;font-size:23.4px;font-weight:400;color:#262d33;letter-spacing:-0.9px;-webkit-text-stroke:0.2px #262d33">2011-11</div>
<div class="t" style="left:354.29999999999995px;width:150px;text-align:right;top:371.39px;font-size:23.4px;font-weight:400;color:#262d33;letter-spacing:-0.9px;-webkit-text-stroke:0.2px #262d33">251</div>
<div class="t" style="left:594.0px;width:150px;text-align:right;top:371.39px;font-size:23.4px;font-weight:400;color:#262d33;letter-spacing:-0.9px;-webkit-text-stroke:0.2px #262d33">123</div>
<div class="t" style="left:906.8000000000002px;width:150px;text-align:right;top:371.39px;font-size:23.4px;font-weight:400;color:#262d33;letter-spacing:-0.9px;-webkit-text-stroke:0.2px #262d33">128</div>
<div class="t" style="left:1215.6000000000001px;width:150px;text-align:right;top:371.39px;font-size:23.4px;font-weight:400;color:#262d33;letter-spacing:-0.9px;-webkit-text-stroke:0.2px #262d33">104.1%</div>
<div class="abs" style="left:46px;top:404px;width:285px;height:42px;background:#f8f9fb"></div>
<div class="abs" style="left:331px;top:404px;width:1065px;height:42px;background:#f9f4f1"></div>
<div class="abs" style="left:83px;top:404px;width:2px;height:41px;background:rgba(0,0,0,0.115)"></div>
<div class="abs" style="left:331px;top:404px;width:2px;height:41px;background:rgba(0,0,0,0.115)"></div>
<div class="abs" style="left:513px;top:404px;width:2px;height:41px;background:rgba(0,0,0,0.115)"></div>
<div class="abs" style="left:753px;top:404px;width:2px;height:41px;background:rgba(0,0,0,0.115)"></div>
<div class="abs" style="left:1066px;top:404px;width:2px;height:41px;background:rgba(0,0,0,0.115)"></div>
<div class="t" style="left:45.8px;width:30px;text-align:right;top:414.39px;font-size:23.4px;font-weight:400;color:#262d33;letter-spacing:-0.9px;-webkit-text-stroke:0.2px #262d33">6</div>
<div class="t" style="left:92.7px;top:413.39px;font-size:23.4px;font-weight:400;color:#262d33;letter-spacing:-0.9px;-webkit-text-stroke:0.2px #262d33">2011-10</div>
<div class="t" style="left:354.29999999999995px;width:150px;text-align:right;top:413.39px;font-size:23.4px;font-weight:400;color:#262d33;letter-spacing:-0.9px;-webkit-text-stroke:0.2px #262d33">442</div>
<div class="t" style="left:594.0px;width:150px;text-align:right;top:413.39px;font-size:23.4px;font-weight:400;color:#262d33;letter-spacing:-0.9px;-webkit-text-stroke:0.2px #262d33">97</div>
<div class="t" style="left:906.8000000000002px;width:150px;text-align:right;top:413.39px;font-size:23.4px;font-weight:400;color:#262d33;letter-spacing:-0.9px;-webkit-text-stroke:0.2px #262d33">345</div>
<div class="t" style="left:1215.6000000000001px;width:150px;text-align:right;top:413.39px;font-size:23.4px;font-weight:400;color:#262d33;letter-spacing:-0.9px;-webkit-text-stroke:0.2px #262d33">355.7%</div>
<div class="abs" style="left:83px;top:446px;width:2px;height:41px;background:rgba(0,0,0,0.115)"></div>
<div class="abs" style="left:331px;top:446px;width:2px;height:41px;background:rgba(0,0,0,0.115)"></div>
<div class="abs" style="left:513px;top:446px;width:2px;height:41px;background:rgba(0,0,0,0.115)"></div>
<div class="abs" style="left:753px;top:446px;width:2px;height:41px;background:rgba(0,0,0,0.115)"></div>
<div class="abs" style="left:1066px;top:446px;width:2px;height:41px;background:rgba(0,0,0,0.115)"></div>
<div class="t" style="left:45.8px;width:30px;text-align:right;top:456.39px;font-size:23.4px;font-weight:400;color:#262d33;letter-spacing:-0.9px;-webkit-text-stroke:0.2px #262d33">7</div>
<div class="t" style="left:92.7px;top:455.39px;font-size:23.4px;font-weight:400;color:#262d33;letter-spacing:-0.9px;-webkit-text-stroke:0.2px #262d33">2011-09</div>
<div class="t" style="left:354.29999999999995px;width:150px;text-align:right;top:455.39px;font-size:23.4px;font-weight:400;color:#262d33;letter-spacing:-0.9px;-webkit-text-stroke:0.2px #262d33">419</div>
<div class="t" style="left:594.0px;width:150px;text-align:right;top:455.39px;font-size:23.4px;font-weight:400;color:#262d33;letter-spacing:-0.9px;-webkit-text-stroke:0.2px #262d33">75</div>
<div class="t" style="left:906.8000000000002px;width:150px;text-align:right;top:455.39px;font-size:23.4px;font-weight:400;color:#262d33;letter-spacing:-0.9px;-webkit-text-stroke:0.2px #262d33">344</div>
<div class="t" style="left:1215.6000000000001px;width:150px;text-align:right;top:455.39px;font-size:23.4px;font-weight:400;color:#262d33;letter-spacing:-0.9px;-webkit-text-stroke:0.2px #262d33">458.7%</div>
<div class="abs" style="left:46px;top:488px;width:285px;height:42px;background:#f8f9fb"></div>
<div class="abs" style="left:331px;top:488px;width:1065px;height:42px;background:#f9f4f1"></div>
<div class="abs" style="left:83px;top:488px;width:2px;height:41px;background:rgba(0,0,0,0.115)"></div>
<div class="abs" style="left:331px;top:488px;width:2px;height:41px;background:rgba(0,0,0,0.115)"></div>
<div class="abs" style="left:513px;top:488px;width:2px;height:41px;background:rgba(0,0,0,0.115)"></div>
<div class="abs" style="left:753px;top:488px;width:2px;height:41px;background:rgba(0,0,0,0.115)"></div>
<div class="abs" style="left:1066px;top:488px;width:2px;height:41px;background:rgba(0,0,0,0.115)"></div>
<div class="t" style="left:45.8px;width:30px;text-align:right;top:498.39px;font-size:23.4px;font-weight:400;color:#262d33;letter-spacing:-0.9px;-webkit-text-stroke:0.2px #262d33">8</div>
<div class="t" style="left:92.7px;top:497.39px;font-size:23.4px;font-weight:400;color:#262d33;letter-spacing:-0.9px;-webkit-text-stroke:0.2px #262d33">2011-08</div>
<div class="t" style="left:354.29999999999995px;width:150px;text-align:right;top:497.39px;font-size:23.4px;font-weight:400;color:#262d33;letter-spacing:-0.9px;-webkit-text-stroke:0.2px #262d33">426</div>
<div class="t" style="left:594.0px;width:150px;text-align:right;top:497.39px;font-size:23.4px;font-weight:400;color:#262d33;letter-spacing:-0.9px;-webkit-text-stroke:0.2px #262d33">56</div>
<div class="t" style="left:906.8000000000002px;width:150px;text-align:right;top:497.39px;font-size:23.4px;font-weight:400;color:#262d33;letter-spacing:-0.9px;-webkit-text-stroke:0.2px #262d33">370</div>
<div class="t" style="left:1215.6000000000001px;width:150px;text-align:right;top:497.39px;font-size:23.4px;font-weight:400;color:#262d33;letter-spacing:-0.9px;-webkit-text-stroke:0.2px #262d33">660.7%</div>
<div class="abs" style="left:83px;top:530px;width:2px;height:41px;background:rgba(0,0,0,0.115)"></div>
<div class="abs" style="left:331px;top:530px;width:2px;height:41px;background:rgba(0,0,0,0.115)"></div>
<div class="abs" style="left:513px;top:530px;width:2px;height:41px;background:rgba(0,0,0,0.115)"></div>
<div class="abs" style="left:753px;top:530px;width:2px;height:41px;background:rgba(0,0,0,0.115)"></div>
<div class="abs" style="left:1066px;top:530px;width:2px;height:41px;background:rgba(0,0,0,0.115)"></div>
<div class="t" style="left:45.8px;width:30px;text-align:right;top:540.39px;font-size:23.4px;font-weight:400;color:#262d33;letter-spacing:-0.9px;-webkit-text-stroke:0.2px #262d33">9</div>
<div class="t" style="left:92.7px;top:539.39px;font-size:23.4px;font-weight:400;color:#262d33;letter-spacing:-0.9px;-webkit-text-stroke:0.2px #262d33">2011-07</div>
<div class="t" style="left:354.29999999999995px;width:150px;text-align:right;top:539.39px;font-size:23.4px;font-weight:400;color:#262d33;letter-spacing:-0.9px;-webkit-text-stroke:0.2px #262d33">296</div>
<svg class="abs" style="left:729.0px;top:542.3px" width="16" height="16" viewBox="0 0 16 16"><circle cx="8" cy="8" r="5.6" fill="none" stroke="#262d33" stroke-width="1.6"/><path d="M2.2 13.8 L13.8 2.2" stroke="#262d33" stroke-width="1.6"/></svg>
<svg class="abs" style="left:1041.8px;top:542.3px" width="16" height="16" viewBox="0 0 16 16"><circle cx="8" cy="8" r="5.6" fill="none" stroke="#262d33" stroke-width="1.6"/><path d="M2.2 13.8 L13.8 2.2" stroke="#262d33" stroke-width="1.6"/></svg>
<svg class="abs" style="left:1350.6px;top:542.3px" width="16" height="16" viewBox="0 0 16 16"><circle cx="8" cy="8" r="5.6" fill="none" stroke="#262d33" stroke-width="1.6"/><path d="M2.2 13.8 L13.8 2.2" stroke="#262d33" stroke-width="1.6"/></svg>
<div class="abs" style="left:46px;top:572px;width:285px;height:42px;background:#f8f9fb"></div>
<div class="abs" style="left:331px;top:572px;width:1065px;height:42px;background:#f9f4f1"></div>
<div class="abs" style="left:83px;top:572px;width:2px;height:41px;background:rgba(0,0,0,0.115)"></div>
<div class="abs" style="left:331px;top:572px;width:2px;height:41px;background:rgba(0,0,0,0.115)"></div>
<div class="abs" style="left:513px;top:572px;width:2px;height:41px;background:rgba(0,0,0,0.115)"></div>
<div class="abs" style="left:753px;top:572px;width:2px;height:41px;background:rgba(0,0,0,0.115)"></div>
<div class="abs" style="left:1066px;top:572px;width:2px;height:41px;background:rgba(0,0,0,0.115)"></div>
<div class="t" style="left:45.8px;width:30px;text-align:right;top:582.39px;font-size:23.4px;font-weight:400;color:#262d33;letter-spacing:-0.9px;-webkit-text-stroke:0.2px #262d33">10</div>
<div class="t" style="left:92.7px;top:581.39px;font-size:23.4px;font-weight:400;color:#262d33;letter-spacing:-0.9px;-webkit-text-stroke:0.2px #262d33">2011-06</div>
<div class="t" style="left:354.29999999999995px;width:150px;text-align:right;top:581.39px;font-size:23.4px;font-weight:400;color:#262d33;letter-spacing:-0.9px;-webkit-text-stroke:0.2px #262d33">186</div>
<svg class="abs" style="left:729.0px;top:584.3px" width="16" height="16" viewBox="0 0 16 16"><circle cx="8" cy="8" r="5.6" fill="none" stroke="#262d33" stroke-width="1.6"/><path d="M2.2 13.8 L13.8 2.2" stroke="#262d33" stroke-width="1.6"/></svg>
<svg class="abs" style="left:1041.8px;top:584.3px" width="16" height="16" viewBox="0 0 16 16"><circle cx="8" cy="8" r="5.6" fill="none" stroke="#262d33" stroke-width="1.6"/><path d="M2.2 13.8 L13.8 2.2" stroke="#262d33" stroke-width="1.6"/></svg>
<svg class="abs" style="left:1350.6px;top:584.3px" width="16" height="16" viewBox="0 0 16 16"><circle cx="8" cy="8" r="5.6" fill="none" stroke="#262d33" stroke-width="1.6"/><path d="M2.2 13.8 L13.8 2.2" stroke="#262d33" stroke-width="1.6"/></svg>
<div class="abs" style="left:83px;top:614px;width:2px;height:41px;background:rgba(0,0,0,0.115)"></div>
<div class="abs" style="left:331px;top:614px;width:2px;height:41px;background:rgba(0,0,0,0.115)"></div>
<div class="abs" style="left:513px;top:614px;width:2px;height:41px;background:rgba(0,0,0,0.115)"></div>
<div class="abs" style="left:753px;top:614px;width:2px;height:41px;background:rgba(0,0,0,0.115)"></div>
<div class="abs" style="left:1066px;top:614px;width:2px;height:41px;background:rgba(0,0,0,0.115)"></div>
<div class="t" style="left:45.8px;width:30px;text-align:right;top:624.39px;font-size:23.4px;font-weight:400;color:#262d33;letter-spacing:-0.9px;-webkit-text-stroke:0.2px #262d33">11</div>
<div class="t" style="left:92.7px;top:623.39px;font-size:23.4px;font-weight:400;color:#262d33;letter-spacing:-0.9px;-webkit-text-stroke:0.2px #262d33">2011-05</div>
<div class="t" style="left:354.29999999999995px;width:150px;text-align:right;top:623.39px;font-size:23.4px;font-weight:400;color:#262d33;letter-spacing:-0.9px;-webkit-text-stroke:0.2px #262d33">130</div>
<svg class="abs" style="left:729.0px;top:626.3px" width="16" height="16" viewBox="0 0 16 16"><circle cx="8" cy="8" r="5.6" fill="none" stroke="#262d33" stroke-width="1.6"/><path d="M2.2 13.8 L13.8 2.2" stroke="#262d33" stroke-width="1.6"/></svg>
<svg class="abs" style="left:1041.8px;top:626.3px" width="16" height="16" viewBox="0 0 16 16"><circle cx="8" cy="8" r="5.6" fill="none" stroke="#262d33" stroke-width="1.6"/><path d="M2.2 13.8 L13.8 2.2" stroke="#262d33" stroke-width="1.6"/></svg>
<svg class="abs" style="left:1350.6px;top:626.3px" width="16" height="16" viewBox="0 0 16 16"><circle cx="8" cy="8" r="5.6" fill="none" stroke="#262d33" stroke-width="1.6"/><path d="M2.2 13.8 L13.8 2.2" stroke="#262d33" stroke-width="1.6"/></svg>
<div class="abs" style="left:46px;top:656px;width:285px;height:42px;background:#f8f9fb"></div>
<div class="abs" style="left:331px;top:656px;width:1065px;height:42px;background:#f9f4f1"></div>
<div class="abs" style="left:83px;top:656px;width:2px;height:41px;background:rgba(0,0,0,0.115)"></div>
<div class="abs" style="left:331px;top:656px;width:2px;height:41px;background:rgba(0,0,0,0.115)"></div>
<div class="abs" style="left:513px;top:656px;width:2px;height:41px;background:rgba(0,0,0,0.115)"></div>
<div class="abs" style="left:753px;top:656px;width:2px;height:41px;background:rgba(0,0,0,0.115)"></div>
<div class="abs" style="left:1066px;top:656px;width:2px;height:41px;background:rgba(0,0,0,0.115)"></div>
<div class="t" style="left:45.8px;width:30px;text-align:right;top:666.39px;font-size:23.4px;font-weight:400;color:#262d33;letter-spacing:-0.9px;-webkit-text-stroke:0.2px #262d33">12</div>
<div class="t" style="left:92.7px;top:665.39px;font-size:23.4px;font-weight:400;color:#262d33;letter-spacing:-0.9px;-webkit-text-stroke:0.2px #262d33">2011-04</div>
<div class="t" style="left:354.29999999999995px;width:150px;text-align:right;top:665.39px;font-size:23.4px;font-weight:400;color:#262d33;letter-spacing:-0.9px;-webkit-text-stroke:0.2px #262d33">87</div>
<svg class="abs" style="left:729.0px;top:668.3px" width="16" height="16" viewBox="0 0 16 16"><circle cx="8" cy="8" r="5.6" fill="none" stroke="#262d33" stroke-width="1.6"/><path d="M2.2 13.8 L13.8 2.2" stroke="#262d33" stroke-width="1.6"/></svg>
<svg class="abs" style="left:1041.8px;top:668.3px" width="16" height="16" viewBox="0 0 16 16"><circle cx="8" cy="8" r="5.6" fill="none" stroke="#262d33" stroke-width="1.6"/><path d="M2.2 13.8 L13.8 2.2" stroke="#262d33" stroke-width="1.6"/></svg>
<svg class="abs" style="left:1350.6px;top:668.3px" width="16" height="16" viewBox="0 0 16 16"><circle cx="8" cy="8" r="5.6" fill="none" stroke="#262d33" stroke-width="1.6"/><path d="M2.2 13.8 L13.8 2.2" stroke="#262d33" stroke-width="1.6"/></svg>
<div class="abs" style="left:83px;top:698px;width:2px;height:41px;background:rgba(0,0,0,0.115)"></div>
<div class="abs" style="left:331px;top:698px;width:2px;height:41px;background:rgba(0,0,0,0.115)"></div>
<div class="abs" style="left:513px;top:698px;width:2px;height:41px;background:rgba(0,0,0,0.115)"></div>
<div class="abs" style="left:753px;top:698px;width:2px;height:41px;background:rgba(0,0,0,0.115)"></div>
<div class="abs" style="left:1066px;top:698px;width:2px;height:41px;background:rgba(0,0,0,0.115)"></div>
<div class="t" style="left:45.8px;width:30px;text-align:right;top:708.39px;font-size:23.4px;font-weight:400;color:#262d33;letter-spacing:-0.9px;-webkit-text-stroke:0.2px #262d33">13</div>
<div class="t" style="left:92.7px;top:707.39px;font-size:23.4px;font-weight:400;color:#262d33;letter-spacing:-0.9px;-webkit-text-stroke:0.2px #262d33">2011-03</div>
<div class="t" style="left:354.29999999999995px;width:150px;text-align:right;top:707.39px;font-size:23.4px;font-weight:400;color:#262d33;letter-spacing:-0.9px;-webkit-text-stroke:0.2px #262d33">89</div>
<svg class="abs" style="left:729.0px;top:710.3px" width="16" height="16" viewBox="0 0 16 16"><circle cx="8" cy="8" r="5.6" fill="none" stroke="#262d33" stroke-width="1.6"/><path d="M2.2 13.8 L13.8 2.2" stroke="#262d33" stroke-width="1.6"/></svg>
<svg class="abs" style="left:1041.8px;top:710.3px" width="16" height="16" viewBox="0 0 16 16"><circle cx="8" cy="8" r="5.6" fill="none" stroke="#262d33" stroke-width="1.6"/><path d="M2.2 13.8 L13.8 2.2" stroke="#262d33" stroke-width="1.6"/></svg>
<svg class="abs" style="left:1350.6px;top:710.3px" width="16" height="16" viewBox="0 0 16 16"><circle cx="8" cy="8" r="5.6" fill="none" stroke="#262d33" stroke-width="1.6"/><path d="M2.2 13.8 L13.8 2.2" stroke="#262d33" stroke-width="1.6"/></svg>
<div class="abs" style="left:46px;top:740px;width:285px;height:42px;background:#f8f9fb"></div>
<div class="abs" style="left:331px;top:740px;width:1065px;height:42px;background:#f9f4f1"></div>
<div class="abs" style="left:83px;top:740px;width:2px;height:41px;background:rgba(0,0,0,0.115)"></div>
<div class="abs" style="left:331px;top:740px;width:2px;height:41px;background:rgba(0,0,0,0.115)"></div>
<div class="abs" style="left:513px;top:740px;width:2px;height:41px;background:rgba(0,0,0,0.115)"></div>
<div class="abs" style="left:753px;top:740px;width:2px;height:41px;background:rgba(0,0,0,0.115)"></div>
<div class="abs" style="left:1066px;top:740px;width:2px;height:41px;background:rgba(0,0,0,0.115)"></div>
<div class="t" style="left:45.8px;width:30px;text-align:right;top:750.39px;font-size:23.4px;font-weight:400;color:#262d33;letter-spacing:-0.9px;-webkit-text-stroke:0.2px #262d33">14</div>
<div class="t" style="left:92.7px;top:749.39px;font-size:23.4px;font-weight:400;color:#262d33;letter-spacing:-0.9px;-webkit-text-stroke:0.2px #262d33">2011-02</div>
<div class="t" style="left:354.29999999999995px;width:150px;text-align:right;top:749.39px;font-size:23.4px;font-weight:400;color:#262d33;letter-spacing:-0.9px;-webkit-text-stroke:0.2px #262d33">83</div>
<svg class="abs" style="left:729.0px;top:752.3px" width="16" height="16" viewBox="0 0 16 16"><circle cx="8" cy="8" r="5.6" fill="none" stroke="#262d33" stroke-width="1.6"/><path d="M2.2 13.8 L13.8 2.2" stroke="#262d33" stroke-width="1.6"/></svg>
<svg class="abs" style="left:1041.8px;top:752.3px" width="16" height="16" viewBox="0 0 16 16"><circle cx="8" cy="8" r="5.6" fill="none" stroke="#262d33" stroke-width="1.6"/><path d="M2.2 13.8 L13.8 2.2" stroke="#262d33" stroke-width="1.6"/></svg>
<svg class="abs" style="left:1350.6px;top:752.3px" width="16" height="16" viewBox="0 0 16 16"><circle cx="8" cy="8" r="5.6" fill="none" stroke="#262d33" stroke-width="1.6"/><path d="M2.2 13.8 L13.8 2.2" stroke="#262d33" stroke-width="1.6"/></svg>
<div class="abs" style="left:83px;top:782px;width:2px;height:6px;background:rgba(0,0,0,0.115)"></div>
<div class="abs" style="left:331px;top:782px;width:2px;height:6px;background:rgba(0,0,0,0.115)"></div>
<div class="abs" style="left:513px;top:782px;width:2px;height:6px;background:rgba(0,0,0,0.115)"></div>
<div class="abs" style="left:753px;top:782px;width:2px;height:6px;background:rgba(0,0,0,0.115)"></div>
<div class="abs" style="left:1066px;top:782px;width:2px;height:6px;background:rgba(0,0,0,0.115)"></div>
</div></body></html>
